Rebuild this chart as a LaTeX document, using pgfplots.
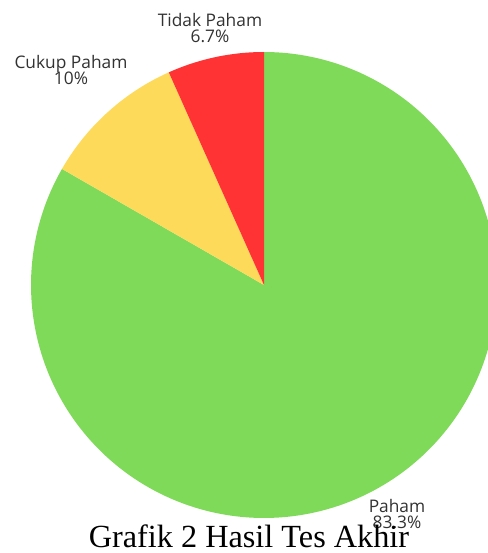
\documentclass[border=0pt]{standalone}
\usepackage{pgfplots}
\usepackage{pgfplotstable}
\pgfplotsset{compat=1.18}
\usepackage{fontspec}
\setmainfont{Liberation Serif}
\newfontfamily\labfont{Open Sans}
\definecolor{pgreen}{RGB}{128,218,90}
\definecolor{pyellow}{RGB}{254,218,90}
\definecolor{pred}{RGB}{255,51,51}
\definecolor{labtext}{RGB}{50,50,50}
\pgfplotstableread{
label value
Paham 83.3
CukupPaham 10
TidakPaham 6.7
}\piedata
\begin{document}
\begin{tikzpicture}
\useasboundingbox (0,0) rectangle (366pt,414.75pt);
\pgfplotstablegetelem{0}{value}\of\piedata \let\vA\pgfplotsretval
\pgfplotstablegetelem{1}{value}\of\piedata \let\vB\pgfplotsretval
\pgfplotstablegetelem{2}{value}\of\piedata \let\vC\pgfplotsretval
\pgfmathsetmacro{\aA}{90-3.6*\vA}
\pgfmathsetmacro{\aB}{\aA-3.6*\vB}
\pgfmathsetmacro{\aC}{\aB-3.6*\vC}
\begin{axis}[
  at={(0,0)}, anchor=south west,
  scale only axis, width=366pt, height=414.75pt,
  xmin=0, xmax=488, ymin=0, ymax=553,
  hide axis, clip=true,
]
\addplot[fill=pgreen, draw=none, domain=\aA:90, samples=200, variable=\t]
  ({264+233*cos(\t)}, {268+233*sin(\t)}) -- (axis cs:264,268) -- cycle;
\addplot[fill=pyellow, draw=none, domain=\aB:\aA, samples=40, variable=\t]
  ({264+233*cos(\t)}, {268+233*sin(\t)}) -- (axis cs:264,268) -- cycle;
\addplot[fill=pred, draw=none, domain=\aC:\aB, samples=30, variable=\t]
  ({264+233*cos(\t)}, {268+233*sin(\t)}) -- (axis cs:264,268) -- cycle;
\end{axis}
\begin{scope}[x=0.75pt,y=0.75pt]
\node[anchor=base, inner sep=0pt, font=\labfont\fontsize{13}{13}\selectfont, text=labtext] at (210,526) {Tidak Paham};
\node[anchor=base, inner sep=0pt, font=\labfont\fontsize{13}{13}\selectfont, text=labtext] at (210,510) {6.7\%};
\node[anchor=base, inner sep=0pt, font=\labfont\fontsize{13}{13}\selectfont, text=labtext] at (71,484) {Cukup Paham};
\node[anchor=base, inner sep=0pt, font=\labfont\fontsize{13}{13}\selectfont, text=labtext] at (71,468) {10\%};
\node[anchor=base, inner sep=0pt, font=\labfont\fontsize{13}{13}\selectfont, text=labtext] at (397,40) {Paham};
\node[anchor=base, inner sep=0pt, font=\labfont\fontsize{13}{13}\selectfont, text=labtext] at (397,24) {83.3\%};
\node[anchor=base, inner sep=0pt, font=\fontsize{24.2}{24.2}\selectfont] at (249,6) {Grafik 2 Hasil Tes Akhir};
\end{scope}
\end{tikzpicture}
\end{document}
